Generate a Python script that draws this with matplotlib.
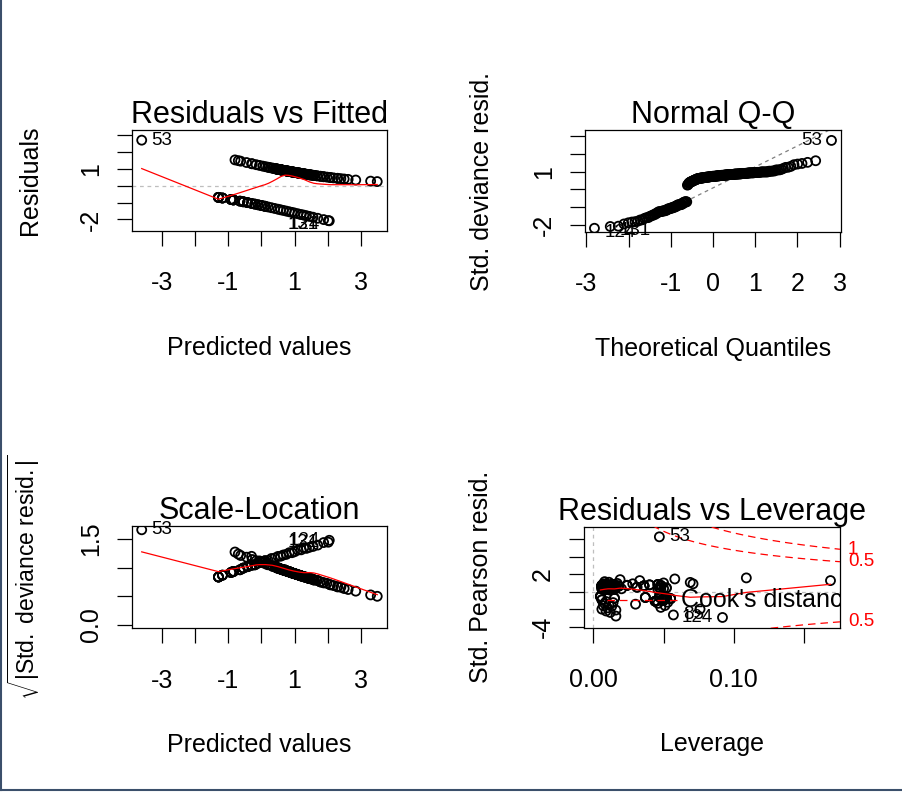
import matplotlib

matplotlib.use("Agg")

from statistics import NormalDist

import matplotlib.pyplot as plt
import numpy as np
from matplotlib import transforms
from matplotlib.lines import Line2D

plt.rcParams["font.family"] = ["Liberation Sans", "DejaVu Sans"]
plt.rcParams["mathtext.fontset"] = "custom"
plt.rcParams["mathtext.rm"] = "Liberation Sans"
plt.rcParams["mathtext.it"] = "Liberation Sans:italic"
plt.rcParams["axes.unicode_minus"] = False

# logistic-regression diagnostics, n = 200 observations
# response = 1 band: linear predictor, how many obs share it, deviance resid, leverage, pearson resid
up_fitted = [3.50, 3.30, 2.85, 2.62, 2.50, 2.40, 2.30, 2.18, 2.08, 1.98, 1.88, 1.78, 1.68, 1.58,
             1.52, 1.46, 1.40, 1.35, 1.30, 1.25, 1.20, 1.16, 1.13, 1.08, 1.04, 1.00, 0.96, 0.92,
             0.88, 0.85, 0.82, 0.80, 0.76, 0.72, 0.68, 0.64, 0.60, 0.57, 0.54, 0.51, 0.47, 0.42,
             0.34, 0.27, 0.22, 0.19, 0.12, 0.04, -0.06, -0.16, -0.28, -0.30, -0.45, -0.63, -0.70,
             -0.80]
up_count = [1, 1, 1, 1, 1, 1, 2, 1, 2, 1, 2, 2, 2, 4, 2, 4, 4, 2, 4, 3, 4, 5, 3, 5, 3, 5, 4, 5,
            4, 5, 4, 3, 5, 3, 6, 3, 5, 3, 4, 2, 5, 3, 2, 1, 1, 1, 1, 1, 1, 1, 1, 1, 1, 1, 1, 1]
up_resid = [0.244, 0.269, 0.335, 0.375, 0.397, 0.417, 0.437, 0.463, 0.485, 0.509, 0.533, 0.558,
            0.585, 0.612, 0.629, 0.646, 0.664, 0.679, 0.694, 0.710, 0.726, 0.739, 0.748, 0.765,
            0.778, 0.792, 0.805, 0.819, 0.833, 0.844, 0.854, 0.861, 0.876, 0.891, 0.905, 0.920,
            0.935, 0.947, 0.958, 0.970, 0.985, 1.005, 1.037, 1.065, 1.086, 1.098, 1.127, 1.160,
            1.203, 1.246, 1.298, 1.307, 1.374, 1.454, 1.485, 1.530]
up_lev = [0.012, 0.008, 0.046, 0.015, 0.010, 0.048, 0.006, 0.020, 0.009, 0.050, 0.013, 0.007,
          0.052, 0.011, 0.047, 0.008, 0.016, 0.031, 0.010, 0.009, 0.006, 0.013, 0.011, 0.009,
          0.008, 0.014, 0.007, 0.012, 0.018, 0.011, 0.036, 0.008, 0.012, 0.048, 0.006, 0.024,
          0.010, 0.014, 0.015, 0.040, 0.009, 0.046, 0.013, 0.071, 0.028, 0.007, 0.017, 0.050,
          0.069, 0.011, 0.008, 0.169, 0.033, 0.019, 0.058, 0.109]
up_pearson = [0.174, 0.192, 0.241, 0.270, 0.287, 0.301, 0.317, 0.336, 0.354, 0.372, 0.391, 0.411,
              0.432, 0.454, 0.468, 0.482, 0.497, 0.509, 0.522, 0.535, 0.549, 0.560, 0.568, 0.583,
              0.595, 0.607, 0.619, 0.631, 0.644, 0.654, 0.664, 0.670, 0.684, 0.698, 0.712, 0.726,
              0.741, 0.752, 0.763, 0.775, 0.791, 0.811, 0.844, 0.874, 0.896, 0.909, 0.942, 0.980,
              1.031, 1.083, 1.150, 1.162, 1.252, 1.370, 1.419, 1.492]

# response = 0 band
lo_fitted = [1.70, 1.56, 1.45, 1.36, 1.28, 1.20, 1.10, 1.00, 0.92, 0.84, 0.75, 0.66, 0.58, 0.50,
             0.40, 0.30, 0.20, 0.10, 0.00, -0.10, -0.20, -0.30, -0.42, -0.55, -0.65, -0.85,
             -0.92, -1.18, -1.30]
lo_count = [1, 1, 1, 1, 1, 1, 1, 1, 1, 1, 1, 1, 1, 1, 1, 1, 1, 3, 3, 2, 2, 2, 3, 3, 2, 4, 3, 3, 4]
lo_resid = [-1.933, -1.871, -1.822, -1.782, -1.747, -1.711, -1.666, -1.621, -1.584, -1.548,
            -1.508, -1.467, -1.432, -1.396, -1.351, -1.307, -1.263, -1.220, -1.177, -1.135,
            -1.094, -1.053, -1.005, -0.954, -0.917, -0.844, -0.819, -0.732, -0.694]
lo_lev = [0.012, 0.009, 0.016, 0.006, 0.076, 0.010, 0.048, 0.013, 0.007, 0.051, 0.011, 0.030,
          0.008, 0.046, 0.014, 0.053, 0.009, 0.044, 0.045, 0.050, 0.006, 0.049, 0.051, 0.055,
          0.015, 0.052, 0.037, 0.047, 0.005]
lo_pearson = [-2.340, -2.181, -2.065, -1.974, -1.896, -1.822, -1.733, -1.649, -1.584, -1.522,
              -1.455, -1.391, -1.336, -1.284, -1.221, -1.162, -1.105, -1.051, -1.000, -0.951,
              -0.905, -0.861, -0.811, -0.760, -0.723, -0.654, -0.631, -0.554, -0.522]

# the observations R names in the plots
named_id = ["53", "124", "131", "85"]
named_fitted = [-3.62, 2.05, 2.02, 1.88]
named_resid = [2.701, -2.084, -2.071, -2.011]
named_lev = [0.047, 0.092, 0.016, 0.057]
named_pearson = [6.110, -2.787, -2.746, -2.560]

n_params = 5
cook_levels = [0.5, 1]

rvf_xticks = [-3, -2, -1, 0, 1, 2, 3]
rvf_xlabels = ["-3", "", "-1", "", "1", "", "3"]
rvf_yticks = [-2, -1, 0, 1, 2, 3]
rvf_ylabels = ["-2", "", "", "1", "", ""]
qq_xticks = [-3, -2, -1, 0, 1, 2, 3]
qq_xlabels = ["-3", "", "-1", "0", "1", "2", "3"]
qq_yticks = [-2, -1, 0, 1, 2, 3]
qq_ylabels = ["-2", "", "", "1", "", ""]
sl_yticks = [0.0, 0.5, 1.0, 1.5]
sl_ylabels = ["0.0", "", "", "1.5"]
lev_xticks = [0.00, 0.05, 0.10, 0.15]
lev_xlabels = ["0.00", "", "0.10", ""]
lev_yticks = [-4, -2, 0, 2, 4, 6]
lev_ylabels = ["-4", "", "", "2", "", ""]


def expand(vals, counts):
    return np.repeat(np.asarray(vals, float), counts)


fitted = np.concatenate([expand(up_fitted, up_count), expand(lo_fitted, lo_count), named_fitted])
resid = np.concatenate([expand(up_resid, up_count), expand(lo_resid, lo_count), named_resid])
lev = np.concatenate([expand(up_lev, up_count), expand(lo_lev, lo_count), named_lev])
pearson = np.concatenate([expand(up_pearson, up_count), expand(lo_pearson, lo_count), named_pearson])
ids = np.array([""] * (sum(up_count) + sum(lo_count)) + named_id, dtype=object)

rs = resid / np.sqrt(1 - lev)
rsp = pearson / np.sqrt(1 - lev)
cook = rsp ** 2 * lev / (n_params * (1 - lev))


def r_lowess(x, y, f=2 / 3, iters=0):
    # R's lowess; plot.lm smooths glm diagnostics with iter = 0
    order = np.argsort(x, kind="mergesort")
    xs = np.asarray(x, float)[order]
    ys = np.asarray(y, float)[order]
    n = len(xs)
    ns = max(2, min(n, int(f * n + 1e-7)))
    span = xs[-1] - xs[0]
    rw = np.ones(n)
    fit = np.zeros(n)
    for it in range(iters + 1):
        for i in range(n):
            d = np.abs(xs - xs[i])
            h = np.sort(d)[ns - 1]
            if h > 0:
                u = d / h
                w = np.where(u <= 0.999, (1 - np.clip(u, 0, 1) ** 3) ** 3, 0.0)
                w[u <= 0.001] = 1.0
            else:
                w = (d == 0).astype(float)
            w = w * rw
            if w.sum() <= 0:
                fit[i] = ys[i]
                continue
            w = w / w.sum()
            a = np.sum(w * xs)
            c = np.sum(w * (xs - a) ** 2)
            if np.sqrt(c) > 0.001 * span:
                w = w * ((xs[i] - a) * (xs - a) / c + 1)
            fit[i] = np.sum(w * ys)
        if it == iters:
            break
        res = np.abs(ys - fit)
        cmad = 6 * np.median(res)
        if cmad < 1e-7 * np.mean(np.abs(ys)):
            break
        r = res / cmad
        rw = np.where(r <= 0.001, 1.0, np.where(r <= 0.999, (1 - r ** 2) ** 2, 0.0))
    return xs, fit


def pad4(lo, hi):
    d = (hi - lo) * 0.04
    return lo - d, hi + d


def extend(lo, hi, f):
    d = (hi - lo) * f
    return lo - d, hi + d


FS = 18
PT = dict(s=42, facecolors="none", edgecolors="black", linewidths=1.3, zorder=2)
DOT = (0, (3, 3))


def style(ax, title, xlabel, ylabel, xt, xl, yt, yl, ylsize=FS):
    ax.set_xticks(xt, xl)
    ax.set_yticks(yt, yl, rotation=90, va="center")
    ax.tick_params(direction="out", length=11, width=0.9, labelsize=FS, colors="black")
    ax.tick_params(axis="x", pad=18)
    ax.tick_params(axis="y", pad=10)
    for sp in ax.spines.values():
        sp.set_linewidth(0.9)
    ax.set_title(title, fontsize=22, pad=4.7)
    ax.set_xlabel(xlabel, fontsize=FS, labelpad=29)
    ax.set_ylabel(ylabel, fontsize=ylsize, labelpad=27)


def id_labels(ax, x, y, idx, shift_neg=False):
    mid = (x[idx].min() + x[idx].max()) / 2
    for i in idx:
        right = x[i] <= mid
        dy = -3 if (shift_neg and y[i] < 0) else 0
        ax.annotate(ids[i], (x[i], y[i]), xytext=(7 if right else -7, dy),
                    textcoords="offset points", ha="left" if right else "right",
                    va="center", fontsize=13.5, annotation_clip=False)


fig = plt.figure(figsize=(9.03, 7.93), dpi=100)
ax1 = fig.add_axes([0.1465, 0.7087, 0.2817, 0.1274])
ax2 = fig.add_axes([0.6478, 0.7074, 0.2835, 0.1286])
ax3 = fig.add_axes([0.1465, 0.2077, 0.2817, 0.1290])
ax4 = fig.add_axes([0.6467, 0.2085, 0.2835, 0.1274])

# Residuals vs Fitted
ax1.scatter(fitted, resid, **PT)
sx, sy = r_lowess(fitted, resid)
ax1.plot(sx, sy, color="red", lw=0.9, zorder=3)
ax1.axhline(0, color="#bebebe", lw=0.9, ls=DOT, zorder=1)
ax1.set_xlim(*pad4(fitted.min(), fitted.max()))
ax1.set_ylim(*pad4(*extend(resid.min(), resid.max(), 0.08)))
style(ax1, "Residuals vs Fitted", "Predicted values", "Residuals",
      rvf_xticks, rvf_xlabels, rvf_yticks, rvf_ylabels)
id_labels(ax1, fitted, resid, np.argsort(-np.abs(resid), kind="mergesort")[:3], True)

# Normal Q-Q
nd = NormalDist()
n = len(rs)
theo = np.empty(n)
theo[np.argsort(rs, kind="mergesort")] = [nd.inv_cdf((i + 0.5) / n) for i in range(n)]
ax2.scatter(theo, rs, **PT)
yq = np.quantile(rs, [0.25, 0.75])
xq = [nd.inv_cdf(0.25), nd.inv_cdf(0.75)]
slope = (yq[1] - yq[0]) / (xq[1] - xq[0])
ax2.axline((0, yq[0] - slope * xq[0]), slope=slope, color="#7f7f7f", lw=0.9, ls=DOT, zorder=1)
ax2.set_xlim(*pad4(theo.min(), theo.max()))
ax2.set_ylim(*pad4(rs.min(), rs.max() + 0.075 * (rs.max() - rs.min())))
style(ax2, "Normal Q-Q", "Theoretical Quantiles", "Std. deviance resid.",
      qq_xticks, qq_xlabels, qq_yticks, qq_ylabels)
show_rs = np.argsort(-np.abs(rs), kind="mergesort")[:3]
id_labels(ax2, theo, rs, show_rs, True)

# Scale-Location
sq = np.sqrt(np.abs(rs))
ax3.scatter(fitted, sq, **PT)
sx, sy = r_lowess(fitted, sq)
ax3.plot(sx, sy, color="red", lw=0.9, zorder=3)
ax3.set_xlim(*pad4(fitted.min(), fitted.max()))
ax3.set_ylim(*pad4(0, sq.max()))
style(ax3, "Scale-Location", "Predicted values", r"$\sqrt{|\mathrm{Std.\ deviance\ resid.}|}$",
      rvf_xticks, rvf_xlabels, sl_yticks, sl_ylabels, ylsize=16.5)
id_labels(ax3, fitted, sq, show_rs)

# Residuals vs Leverage
ax4.scatter(lev, rsp, **PT)
sx, sy = r_lowess(lev, rsp)
ax4.plot(sx, sy, color="red", lw=0.9, zorder=3)
ax4.axhline(0, color="#bebebe", lw=0.9, ls=DOT, zorder=1)
ax4.axvline(0, color="#bebebe", lw=0.9, ls=DOT, zorder=1)
xl4 = pad4(0, lev.max())
yl4 = pad4(*extend(rsp.min(), rsp.max(), 0.08))
ax4.set_xlim(*xl4)
ax4.set_ylim(*yl4)
hh = np.linspace(min(lev.min(), lev.max() / 100), xl4[1], 101)
for crit in cook_levels:
    cl = np.sqrt(crit * n_params * (1 - hh) / hh)
    for sgn in (1, -1):
        ax4.plot(hh, sgn * cl, color="red", lw=0.9, ls=(0, (6, 4)), zorder=3)
style(ax4, "Residuals vs Leverage", "Leverage", "Std. Pearson resid.",
      lev_xticks, lev_xlabels, lev_yticks, lev_ylabels)
id_labels(ax4, lev, rsp, np.argsort(-cook, kind="mergesort")[:3])

# Cook's distance legend (bottom left, clipped by the plot box as in R)
ax4.plot([0.09, 0.375], [0.274, 0.274], transform=ax4.transAxes, color="red", lw=0.9,
         ls=(0, (6, 4)), zorder=3)
ax4.text(0.38, 0.274, "Cook's distance", transform=ax4.transAxes, fontsize=FS, va="center",
         ha="left", clip_on=True, zorder=4)

# red contour labels on the right margin
xmax = min(0.99, xl4[1])
ymult = np.sqrt(n_params * (1 - xmax) / xmax)
side = transforms.blended_transform_factory(ax4.transAxes, ax4.transData) + \
    transforms.ScaledTranslation(8 / 100, 0, fig.dpi_scale_trans)
for crit in cook_levels:
    for sgn in (1, -1):
        yv = sgn * np.sqrt(crit) * ymult
        if yl4[0] <= yv <= yl4[1]:
            ax4.text(1, yv, f"{crit:g}", transform=side, color="red", fontsize=13.5,
                     ha="left", va="center", clip_on=False)

# window frame of the screenshot
fig.add_artist(Line2D([0.0012, 0.0012], [0.0038, 1], transform=fig.transFigure,
                      color="#3b4f6b", lw=1.5))
fig.add_artist(Line2D([0, 1], [0.0038, 0.0038], transform=fig.transFigure,
                      color="#3b4f6b", lw=1.5))

fig.savefig("out.png", dpi=100)
plt.close(fig)
